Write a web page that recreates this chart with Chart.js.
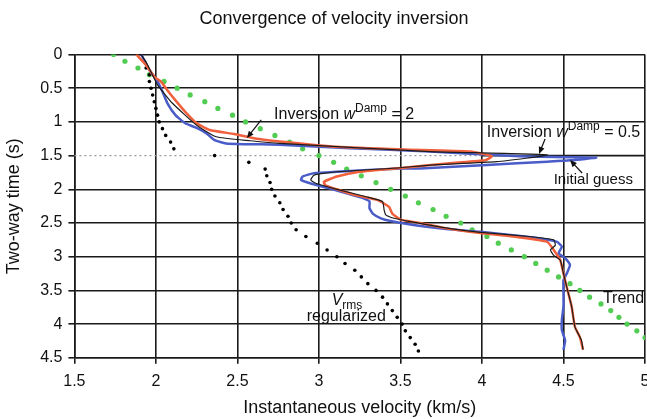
<!DOCTYPE html>
<html>
<head>
<meta charset="utf-8">
<title>Convergence of velocity inversion</title>
<script src="https://cdn.jsdelivr.net/npm/chart.js@4.4.0/dist/chart.umd.min.js"></script>
<style>
    html, body { margin: 0; padding: 0; background: #fff; overflow: hidden; }
    #wrap { width: 660px; height: 419px; }
</style>
</head>
<body>
<div id="wrap"><canvas id="vel-chart" width="660" height="419"></canvas></div>
<script>
// Trend: one dot every 0.1 s
const trendTime = [0, 0.1, 0.2, 0.3, 0.4, 0.5, 0.6, 0.7, 0.8, 0.9, 1.0, 1.1, 1.2, 1.3, 1.4, 1.5, 1.6, 1.7, 1.8, 1.9, 2.0,
    2.1, 2.2, 2.3, 2.4, 2.5, 2.6, 2.7, 2.8, 2.9, 3.0, 3.1, 3.2, 3.3, 3.4, 3.5, 3.6, 3.7, 3.8, 3.9, 4.0, 4.1, 4.2];
const trendVel = [1.74, 1.81, 1.89, 1.96, 2.05, 2.13, 2.21, 2.3, 2.38, 2.47, 2.55, 2.64, 2.73, 2.82, 2.9, 3.0, 3.09, 3.17, 3.26, 3.35, 3.44,
    3.53, 3.61, 3.7, 3.78, 3.87, 3.94, 4.03, 4.1, 4.18, 4.26, 4.33, 4.4, 4.47, 4.54, 4.6, 4.66, 4.73, 4.79, 4.84, 4.89, 4.95, 5.0];

// Regularized Vrms
const vrmsTime = [0, 0.1, 0.2, 0.3, 0.4, 0.5, 0.6, 0.7, 0.8, 0.9, 1.0, 1.1, 1.2, 1.3, 1.4, 1.5, 1.6, 1.7, 1.8, 1.9, 2.0,
    2.1, 2.2, 2.3, 2.4, 2.5, 2.6, 2.7, 2.8, 2.9, 3.0, 3.1, 3.2, 3.3, 3.4, 3.5, 3.6, 3.7, 3.8, 3.9, 4.0, 4.1, 4.2, 4.3, 4.4];
const vrmsVel = [1.91, 1.93, 1.94, 1.96, 1.96, 1.97, 1.98, 1.99, 2.0, 2.01, 2.02, 2.04, 2.06, 2.09, 2.11, 2.36, 2.57, 2.67, 2.68, 2.7, 2.71,
    2.73, 2.76, 2.78, 2.81, 2.83, 2.86, 2.92, 2.99, 3.05, 3.11, 3.16, 3.22, 3.26, 3.3, 3.35, 3.39, 3.42, 3.45, 3.48, 3.51, 3.53, 3.56, 3.59, 3.61];

// Initial guess
const initialTime = [0, 0.23, 0.4, 0.55, 0.72, 0.9, 1.02, 1.09, 1.17, 1.27, 1.32, 1.33, 1.33, 1.34, 1.39, 1.44, 1.51, 1.53, 1.57, 1.59,
    1.64, 1.69, 1.69, 1.74, 1.76, 1.81, 1.86, 1.9, 1.94, 1.99, 2.06, 2.13, 2.18, 2.28, 2.36, 2.43, 2.47, 2.53, 2.59, 2.63,
    2.68, 2.73, 2.78, 2.85, 2.95, 3.02, 3.12, 3.25, 3.35, 3.54, 3.74, 3.94, 4.09, 4.24, 4.38];
const initialVel = [1.91, 1.96, 2.01, 2.04, 2.07, 2.12, 2.18, 2.25, 2.31, 2.36, 2.43, 2.54, 2.64, 2.76, 3.19, 3.68, 4.23, 4.7, 4.54, 4.4,
    4.03, 3.62, 3.5, 3.11, 2.97, 2.9, 2.89, 2.93, 2.99, 3.07, 3.17, 3.27, 3.31, 3.31, 3.33, 3.38, 3.44, 3.58, 3.78, 3.99,
    4.19, 4.36, 4.46, 4.49, 4.47, 4.51, 4.54, 4.52, 4.5, 4.5, 4.5, 4.49, 4.49, 4.51, 4.5];

// Inversion, wDamp = 2
const dampTwoTime = [0, 0.16, 0.33, 0.4, 0.53, 0.68, 0.85, 1.02, 1.12, 1.18, 1.25, 1.29, 1.37, 1.41, 1.44, 1.51, 1.57, 1.61, 1.68, 1.74,
    1.81, 1.89, 1.94, 2.0, 2.09, 2.16, 2.26, 2.36, 2.45, 2.5, 2.58, 2.65, 2.7, 2.78, 2.9, 3.05, 3.25, 3.45, 3.74, 4.04, 4.19, 4.38];
const dampTwoVel = [1.88, 1.94, 1.99, 2.03, 2.07, 2.12, 2.18, 2.25, 2.33, 2.48, 2.62, 2.76, 3.11, 3.52, 3.93, 4.06, 4.02, 3.82, 3.52, 3.25,
    3.11, 3.03, 3.04, 3.11, 3.23, 3.36, 3.43, 3.45, 3.5, 3.62, 3.78, 3.99, 4.19, 4.4, 4.44, 4.48, 4.5, 4.52, 4.55, 4.57, 4.6, 4.62];

// Inversion, wDamp = 0.5
const dampHalfTime = [0, 0.16, 0.45, 0.72, 1.05, 1.22, 1.28, 1.32, 1.44, 1.49, 1.59, 1.64, 1.68, 1.74, 1.79, 1.86, 1.91, 2.0, 2.11, 2.18,
    2.31, 2.38, 2.43, 2.48, 2.57, 2.64, 2.7, 2.75, 2.83, 2.9, 2.98, 3.05, 3.25, 3.45, 3.74, 4.04, 4.24, 4.38];
const dampHalfVel = [1.91, 1.95, 2.01, 2.1, 2.25, 2.37, 2.58, 2.76, 3.68, 4.4, 4.09, 3.68, 3.5, 3.11, 2.97, 2.95, 2.98, 3.11, 3.29, 3.39,
    3.4, 3.41, 3.46, 3.56, 3.77, 3.99, 4.29, 4.44, 4.45, 4.42, 4.44, 4.48, 4.5, 4.52, 4.55, 4.57, 4.61, 4.62];

const FONT = '"Liberation Sans", Arial, Helvetica, sans-serif';
const INK = '#1a1a1a';

function pairs(vel, time) {
    return vel.map((v, i) => ({x: v, y: time[i]}));
}

function isHalfStep(value) {
    return Math.abs(value - 1.5) < 1e-6;
}

// 1 instead of 1.0
function plainNumber(value) {
    return String(Math.round(value * 10) / 10);
}

function drawRich(ctx, x, y, parts, base) {
    parts.forEach(([txt, kind]) => {
        let size = base, dy = 0, style = '';
        if (kind === 'sup') { size = 12; dy = -7; }
        if (kind === 'sub') { size = 12; dy = 4; }
        if (kind === 'i') style = 'italic ';
        ctx.font = style + size + 'px ' + FONT;
        ctx.fillText(txt, x, y + dy);
        x += ctx.measureText(txt).width;
    });
}

function drawArrow(ctx, x1, y1, x2, y2) {
    const ang = Math.atan2(y2 - y1, x2 - x1);
    const len = 7, half = 3;
    ctx.beginPath();
    ctx.moveTo(x1, y1);
    ctx.lineTo(x2 - Math.cos(ang) * len * 0.8, y2 - Math.sin(ang) * len * 0.8);
    ctx.stroke();
    ctx.beginPath();
    ctx.moveTo(x2, y2);
    ctx.lineTo(x2 - Math.cos(ang) * len - Math.sin(ang) * half, y2 - Math.sin(ang) * len + Math.cos(ang) * half);
    ctx.lineTo(x2 - Math.cos(ang) * len + Math.sin(ang) * half, y2 - Math.sin(ang) * len - Math.cos(ang) * half);
    ctx.closePath();
    ctx.fill();
}

// labels and arrows, placed in axis units
const labels = [
    {v: 2.725, t: 0.96, size: 16, parts: [['Inversion ', 'n'], ['w', 'i'], ['Damp', 'sup'], [' = 2', 'n']]},
    {v: 4.03, t: 1.23, size: 16, parts: [['Inversion ', 'n'], ['w', 'i'], ['Damp', 'sup'], [' = 0.5', 'n']]},
    {v: 4.44, t: 1.925, size: 15, parts: [['Initial guess', 'n']]},
    {v: 4.742, t: 3.69, size: 16, parts: [['Trend', 'n']]},
    {v: 3.078, t: 3.715, size: 16, parts: [['V', 'i'], ['rms', 'sub']]},
    {v: 2.925, t: 3.95, size: 16, parts: [['regularized', 'n']]}
];
const arrows = [
    [2.646, 0.97, 2.558, 1.24],
    [4.387, 1.254, 4.35, 1.476],
    [4.614, 1.758, 4.54, 1.565]
];

const notesPlugin = {
    id: 'notes',
    beforeDatasetsDraw(chart) {
        // the 1.5 s line is drawn faint and dotted up to 4 km/s
        const {ctx, scales: {x, y}} = chart;
        const yy = y.getPixelForValue(1.5);
        ctx.save();
        ctx.lineWidth = 1.4;
        ctx.strokeStyle = '#9a9a9a';
        ctx.setLineDash([2, 3]);
        ctx.beginPath();
        ctx.moveTo(x.getPixelForValue(1.5), yy);
        ctx.lineTo(x.getPixelForValue(4.0), yy);
        ctx.stroke();
        ctx.setLineDash([]);
        ctx.lineWidth = 1.6;
        ctx.strokeStyle = INK;
        ctx.beginPath();
        ctx.moveTo(x.getPixelForValue(4.0), yy);
        ctx.lineTo(x.getPixelForValue(5.0), yy);
        ctx.stroke();
        ctx.restore();
    },
    afterDatasetsDraw(chart) {
        const {ctx, scales: {x, y}} = chart;
        ctx.save();
        ctx.fillStyle = '#111';
        ctx.strokeStyle = '#111';
        ctx.lineWidth = 1.2;
        ctx.textBaseline = 'alphabetic';
        ctx.textAlign = 'left';
        labels.forEach(n => drawRich(ctx, x.getPixelForValue(n.v), y.getPixelForValue(n.t), n.parts, n.size));
        arrows.forEach(a => drawArrow(ctx,
            x.getPixelForValue(a[0]), y.getPixelForValue(a[1]),
            x.getPixelForValue(a[2]), y.getPixelForValue(a[3])));

        ctx.font = '18px ' + FONT;
        ctx.textAlign = 'center';
        ctx.textBaseline = 'middle';
        ctx.fillText('Convergence of velocity inversion', 334, 19);
        ctx.restore();
    }
};

Chart.defaults.font.family = FONT;
Chart.defaults.color = '#111';

const ctx = document.getElementById('vel-chart').getContext('2d');
const chart = new Chart(ctx, {
    type: 'scatter',
    data: {
        datasets: [
            {
                label: 'Inversion wDamp = 0.5',
                data: pairs(dampHalfVel, dampHalfTime),
                showLine: true,
                borderColor: '#1c1c1c',
                borderWidth: 1.2,
                pointRadius: 0,
                tension: 0.15
            },
            {
                label: 'Inversion wDamp = 2',
                data: pairs(dampTwoVel, dampTwoTime),
                showLine: true,
                borderColor: '#f0603c',
                borderWidth: 2.5,
                pointRadius: 0,
                tension: 0.15
            },
            {
                label: 'Initial guess',
                data: pairs(initialVel, initialTime),
                showLine: true,
                borderColor: '#4a5cc8',
                borderWidth: 2.5,
                pointRadius: 0,
                tension: 0.15
            },
            {
                label: 'Vrms regularized',
                data: pairs(vrmsVel, vrmsTime),
                showLine: false,
                pointRadius: 1.8,
                pointBorderWidth: 0,
                pointBackgroundColor: '#000'
            },
            {
                label: 'Trend',
                data: pairs(trendVel, trendTime),
                showLine: false,
                pointRadius: 2.6,
                pointBorderWidth: 0,
                pointBackgroundColor: '#52cc52'
            }
        ]
    },
    options: {
        responsive: false,
        animation: false,
        layout: {
            padding: {top: 54.5, right: 15, bottom: 0, left: 0}
        },
        plugins: {
            legend: {display: false},
            tooltip: {enabled: false}
        },
        scales: {
            x: {
                type: 'linear',
                min: 1.5,
                max: 5,
                afterFit(scale) { scale.height = 61.2; },
                ticks: {stepSize: 0.5, padding: 8, font: {size: 16}, color: '#111', callback: plainNumber},
                grid: {color: INK, lineWidth: 1.6, tickLength: 6, tickColor: INK, tickWidth: 1.6},
                border: {color: INK, width: 1.6},
                title: {
                    display: true,
                    text: 'Instantaneous velocity (km/s)',
                    font: {size: 18},
                    color: '#111',
                    padding: {top: 6, bottom: 0}
                }
            },
            y: {
                type: 'linear',
                reverse: true,
                min: 0,
                max: 4.5,
                afterFit(scale) { scale.width = 74.4; },
                ticks: {stepSize: 0.5, padding: 6, font: {size: 16}, color: '#111', callback: plainNumber},
                grid: {
                    color: c => (c.tick && isHalfStep(c.tick.value)) ? 'rgba(0,0,0,0)' : INK,
                    lineWidth: 1.6,
                    tickLength: 6,
                    tickColor: INK,
                    tickWidth: 1.6
                },
                border: {color: INK, width: 1.6},
                title: {
                    display: true,
                    text: 'Two-way time (s)',
                    font: {size: 18},
                    color: '#111',
                    padding: {top: 3, bottom: 15.5}
                }
            }
        }
    },
    plugins: [notesPlugin]
});
</script>
</body>
</html>
